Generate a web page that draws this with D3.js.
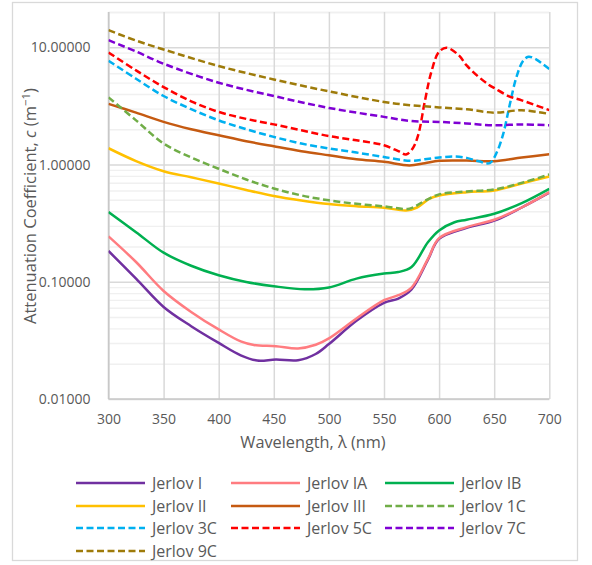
<!DOCTYPE html>
<html>
<head>
<meta charset="utf-8">
<script src="https://cdn.jsdelivr.net/npm/d3@7"></script>
<style>
  html, body { margin: 0; padding: 0; background: #fff; }
  svg { display: block; }
  text { font-family: "Open Sans", "Noto Sans", sans-serif; fill: #595959; }
</style>
</head>
<body>
<svg id="chart" width="592" height="565"></svg>
<script>
// ---------- data ----------
const seriesNames = ["Jerlov I", "Jerlov IA", "Jerlov IB", "Jerlov II", "Jerlov III",
                     "Jerlov 1C", "Jerlov 3C", "Jerlov 5C", "Jerlov 7C", "Jerlov 9C"];
const seriesColors = ["#7030A0", "#FF7C80", "#00B050", "#FFC000", "#C55A11",
                      "#70AD47", "#00B0F0", "#FF0000", "#7F00D4", "#9E7B0A"];
const seriesDashed = [false, false, false, false, false, true, true, true, true, true];

const xTicks = [300, 350, 400, 450, 500, 550, 600, 650, 700];
const yTicks = [0.01, 0.1, 1, 10];

const jerlovI = [[300,0.183],[325,0.1064],[350,0.061],[375,0.0418],[400,0.0301],[420,0.0236],
  [435,0.0213],[452,0.0217],[472,0.0214],[488,0.0242],[500,0.0294],[525,0.0464],[550,0.066],
  [563,0.0719],[575,0.0859],[590,0.155],[600,0.232],[625,0.288],[650,0.332],[675,0.43],[700,0.575]];
const jerlovIA = [[300,0.244],[325,0.1474],[350,0.0835],[375,0.0553],[400,0.0392],[420,0.0310],
  [432,0.0289],[452,0.0282],[472,0.0270],[488,0.0290],[500,0.0329],[525,0.0486],[550,0.0696],
  [563,0.0768],[575,0.0893],[590,0.1575],[600,0.2355],[625,0.2926],[650,0.338],[675,0.43],[700,0.581]];
const jerlovIB = [[300,0.393],[325,0.265],[350,0.177],[375,0.137],[400,0.1136],[425,0.0996],
  [450,0.0916],[478,0.0862],[500,0.0893],[525,0.1064],[550,0.1174],[563,0.121],[575,0.1336],
  [590,0.218],[600,0.274],[614,0.322],[625,0.338],[650,0.380],[675,0.469],[700,0.621]];
const jerlovII = [[300,1.377],[325,1.07],[350,0.877],[375,0.778],[400,0.689],[425,0.607],
  [450,0.540],[475,0.494],[500,0.460],[525,0.441],[550,0.428],[570,0.406],[580,0.43],
  [591,0.51],[600,0.545],[625,0.581],[650,0.601],[675,0.69],[700,0.791]];
const jerlovIII = [[300,3.29],[325,2.77],[350,2.31],[375,2.0],[400,1.776],[425,1.58],
  [450,1.43],[475,1.30],[500,1.20],[525,1.11],[550,1.054],[573,0.982],[587,1.026],
  [600,1.075],[625,1.08],[650,1.067],[675,1.147],[700,1.224]];
const jerlov1C = [[300,3.74],[325,2.38],[350,1.51],[375,1.15],[400,0.92],[425,0.745],
  [450,0.625],[475,0.545],[500,0.495],[525,0.462],[550,0.440],[573,0.420],[585,0.478],
  [600,0.556],[625,0.589],[650,0.613],[677,0.707],[700,0.822]];
const jerlov3C = [[300,7.68],[325,5.39],[350,3.84],[375,2.97],[400,2.38],[425,2.0],
  [450,1.72],[475,1.51],[500,1.37],[525,1.265],[550,1.16],[575,1.075],[587,1.11],
  [600,1.147],[614,1.17],[625,1.14],[636,1.066],[646,1.03],[652,1.25],[658,1.8],
  [664,3.2],[670,5.5],[676,7.6],[681,8.3],[688,7.9],[694,7.2],[700,6.54]];
const jerlov5C = [[300,9.03],[325,6.35],[350,4.58],[375,3.46],[400,2.81],[425,2.45],
  [450,2.20],[475,1.96],[500,1.75],[525,1.61],[550,1.46],[563,1.30],[570,1.22],
  [576,1.37],[581,1.78],[587,3.44],[593,6.19],[600,9.16],[607,9.9],[618,8.52],
  [625,7.0],[636,5.58],[645,4.80],[651,4.44],[663,3.84],[675,3.53],[700,2.91]];
const jerlov7C = [[300,11.5],[325,9.21],[350,7.24],[400,4.99],[450,3.84],[500,3.04],
  [550,2.55],[575,2.35],[600,2.31],[625,2.24],[650,2.16],[675,2.20],[700,2.16]];
const jerlov9C = [[300,14.0],[325,11.4],[350,9.58],[400,6.92],[450,5.32],[500,4.21],
  [550,3.42],[575,3.20],[600,3.07],[625,2.96],[650,2.77],[675,2.90],[700,2.70]];

const seriesData = [jerlovI, jerlovIA, jerlovIB, jerlovII, jerlovIII,
                    jerlov1C, jerlov3C, jerlov5C, jerlov7C, jerlov9C];

// ---------- layout ----------
const svg = d3.select("#chart");
const plot = { left: 108.5, right: 549.3, top: 12, bottom: 399 };

// outer border
svg.append("rect").attr("x", 12.5).attr("y", 2.5).attr("width", 565).attr("height", 558)
  .attr("fill", "#fff").attr("stroke", "#D9D9D9").attr("stroke-width", 1.3);

const x = d3.scaleLinear().domain([300, 700]).range([plot.left, plot.right]);
const y = d3.scaleLog().domain([0.01, 20]).range([plot.bottom, plot.top]);

// minor horizontal gridlines
const minorVals = [];
[0.01, 0.1, 1, 10].forEach(d => { for (let k = 2; k <= 9; k++) { const v = d * k; if (v <= 20) minorVals.push(v); } });
minorVals.push(20);
svg.append("g").attr("transform", `translate(${plot.left},0)`)
  .call(d3.axisLeft(y).tickValues(minorVals).tickSize(-(plot.right - plot.left)).tickFormat(""))
  .call(g => g.select(".domain").remove())
  .call(g => g.selectAll("line").attr("stroke", "#F0F0F0").attr("stroke-width", 1.4));

// major horizontal gridlines
svg.append("g").attr("transform", `translate(${plot.left},0)`)
  .call(d3.axisLeft(y).tickValues(yTicks).tickSize(-(plot.right - plot.left)).tickFormat(""))
  .call(g => g.select(".domain").remove())
  .call(g => g.selectAll("line").attr("stroke", "#D9D9D9").attr("stroke-width", 1.5));

// vertical gridlines
svg.append("g").attr("transform", `translate(0,${plot.bottom})`)
  .call(d3.axisBottom(x).tickValues(xTicks).tickSize(-(plot.bottom - plot.top)).tickFormat(""))
  .call(g => g.select(".domain").remove())
  .call(g => g.selectAll("line").attr("stroke", "#D9D9D9").attr("stroke-width", 1.5));

// axis lines
svg.append("line").attr("x1", plot.left).attr("x2", plot.left).attr("y1", plot.top).attr("y2", plot.bottom)
  .attr("stroke", "#C8C8C8").attr("stroke-width", 1.5);
svg.append("line").attr("x1", plot.left).attr("x2", plot.right).attr("y1", plot.bottom).attr("y2", plot.bottom)
  .attr("stroke", "#C8C8C8").attr("stroke-width", 1.5);

// tick labels
svg.append("g").attr("transform", `translate(${plot.left - 15},0)`)
  .call(d3.axisLeft(y).tickValues(yTicks).tickSize(0).tickFormat(d3.format(".5f")))
  .call(g => g.select(".domain").remove())
  .call(g => g.selectAll("text").attr("font-size", "14px").attr("fill", "#595959")
    .style("font-family", '"Open Sans", sans-serif'));

svg.append("g").attr("transform", `translate(0,${plot.bottom + 12})`)
  .call(d3.axisBottom(x).tickValues(xTicks).tickSize(0).tickFormat(d3.format("d")))
  .call(g => g.select(".domain").remove())
  .call(g => g.selectAll("text").attr("font-size", "14px").attr("fill", "#595959")
    .style("font-family", '"Open Sans", sans-serif'));

// axis titles
svg.append("text").attr("x", 313).attr("y", 448)
  .attr("text-anchor", "middle").attr("font-size", "16.3px").text("Wavelength, λ (nm)");

const yt = svg.append("text").attr("transform", `translate(35.5,206) rotate(-90)`)
  .attr("text-anchor", "middle").attr("font-size", "16.5px");
yt.append("tspan").text("Attenuation Coefficient, ");
yt.append("tspan").attr("font-style", "italic").text("c");
yt.append("tspan").text(" (m");
yt.append("tspan").text("\u22121").attr("font-size", "11.5px").attr("dy", "-6");
yt.append("tspan").text(")").attr("dy", "6");

// clip
svg.append("clipPath").attr("id", "clip").append("rect")
  .attr("x", plot.left).attr("y", plot.top).attr("width", plot.right - plot.left).attr("height", plot.bottom - plot.top);

// lines
const line = d3.line().x(d => x(d[0])).y(d => y(d[1])).curve(d3.curveCatmullRom.alpha(0.5));
const gLines = svg.append("g").attr("clip-path", "url(#clip)");
seriesData.forEach((data, i) => {
  gLines.append("path").datum(data).attr("d", line)
    .attr("fill", "none").attr("stroke", seriesColors[i]).attr("stroke-width", 2.5)
    .attr("stroke-linejoin", "round")
    .attr("stroke-dasharray", seriesDashed[i] ? "7,3.5" : null);
});

// legend
const legCols = [76, 231, 385];
const legRows = [483, 506, 528, 551];
const leg = svg.append("g");
seriesNames.forEach((name, i) => {
  const cx = legCols[i % 3], cy = legRows[Math.floor(i / 3)];
  leg.append("line").attr("x1", cx).attr("x2", cx + 69).attr("y1", cy).attr("y2", cy)
    .attr("stroke", seriesColors[i]).attr("stroke-width", 2.5)
    .attr("stroke-dasharray", seriesDashed[i] ? "7,3.5" : null);
  leg.append("text").attr("x", cx + 76).attr("y", cy + 5.5).attr("font-size", "16px").text(name);
});
</script>
</body>
</html>
